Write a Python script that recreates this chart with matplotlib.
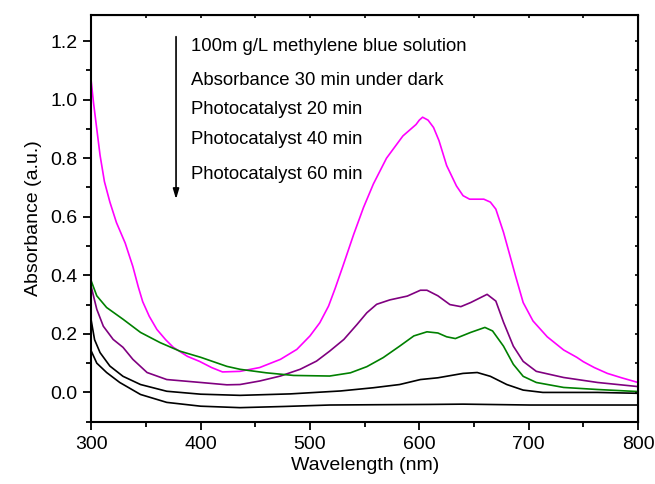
import matplotlib
matplotlib.use("Agg")
import matplotlib.pyplot as plt
from matplotlib.ticker import MultipleLocator, FormatStrFormatter

# ---- spectra (wavelength nm, absorbance a.u.) ------------------------------
wl_mb = [300, 302, 305, 308, 312, 317, 323, 331, 338, 343, 347, 353, 360, 368,
         375, 388, 399, 410, 420, 436, 454, 473, 488, 500, 509, 517, 523, 530,
         540, 549, 558, 570, 585, 597, 600, 603, 608, 613, 618, 625, 634, 640,
         646, 659, 665, 670, 677, 683, 688, 695, 704, 717, 732, 744, 750, 760,
         772, 785, 800]
abs_mb = [1.06, 0.99, 0.90, 0.81, 0.72, 0.65, 0.58, 0.51, 0.43, 0.36, 0.31, 0.26,
          0.215, 0.18, 0.154, 0.123, 0.106, 0.085, 0.07, 0.072, 0.085, 0.113,
          0.147, 0.193, 0.238, 0.295, 0.355, 0.43, 0.54, 0.632, 0.712, 0.80,
          0.876, 0.915, 0.93, 0.94, 0.93, 0.905, 0.86, 0.775, 0.705, 0.672,
          0.66, 0.66, 0.65, 0.626, 0.547, 0.466, 0.398, 0.307, 0.244, 0.19,
          0.145, 0.12, 0.105, 0.085, 0.065, 0.05, 0.034]

wl_dark = [300, 305, 311, 320, 329, 338, 351, 369, 400, 424, 436, 454, 473, 491,
           506, 518, 531, 543, 552, 561, 573, 589, 601, 607, 617, 628, 638, 647,
           662, 670, 677, 686, 695, 707, 732, 763, 800]
abs_dark = [0.36, 0.284, 0.226, 0.181, 0.154, 0.113, 0.068, 0.044, 0.034, 0.026,
            0.027, 0.039, 0.056, 0.079, 0.107, 0.141, 0.181, 0.232, 0.272,
            0.301, 0.316, 0.329, 0.349, 0.349, 0.33, 0.30, 0.293, 0.307, 0.335,
            0.312, 0.24, 0.158, 0.106, 0.072, 0.051, 0.034, 0.02]

wl_20 = [300, 305, 314, 329, 345, 363, 381, 400, 424, 436, 460, 485, 518, 537,
         552, 567, 582, 595, 607, 617, 625, 633, 647, 660, 667, 677, 686, 695,
         707, 732, 763, 800]
abs_20 = [0.38, 0.33, 0.29, 0.25, 0.205, 0.17, 0.141, 0.12, 0.089, 0.079, 0.067,
          0.058, 0.056, 0.067, 0.088, 0.119, 0.158, 0.193, 0.207, 0.203, 0.19,
          0.184, 0.205, 0.222, 0.21, 0.158, 0.096, 0.055, 0.034, 0.017, 0.01,
          0.003]

wl_40 = [300, 303, 308, 317, 329, 345, 369, 400, 436, 482, 528, 558, 582, 601,
         617, 640, 653, 665, 680, 695, 713, 763, 800]
abs_40 = [0.244, 0.18, 0.136, 0.09, 0.055, 0.027, 0.004, -0.006, -0.01, -0.005,
          0.005, 0.016, 0.027, 0.044, 0.05, 0.065, 0.068, 0.055, 0.027, 0.008,
          0.0, 0.0, -0.003]

wl_60 = [300, 305, 314, 326, 345, 369, 400, 436, 476, 518, 560, 610, 640, 701, 800]
abs_60 = [0.141, 0.10, 0.068, 0.034, -0.007, -0.034, -0.047, -0.052, -0.048,
          -0.043, -0.042, -0.041, -0.04, -0.043, -0.043]

legend_lines = ["100m g/L methylene blue solution",
                "Absorbance 30 min under dark",
                "Photocatalyst 20 min",
                "Photocatalyst 40 min",
                "Photocatalyst 60 min"]
legend_y = [1.18, 1.067, 0.967, 0.863, 0.745]

plt.rcParams["font.family"] = ["Liberation Sans", "DejaVu Sans"]

fig = plt.figure(figsize=(6.55, 4.84), dpi=100)
ax = fig.add_axes([0.1394, 0.1287, 0.8346, 0.8409])

lw = 1.2
ax.plot(wl_mb, abs_mb, color="#ff00ff", lw=lw)
ax.plot(wl_dark, abs_dark, color="#800080", lw=lw)
ax.plot(wl_20, abs_20, color="#008000", lw=lw)
ax.plot(wl_40, abs_40, color="black", lw=lw)
ax.plot(wl_60, abs_60, color="black", lw=lw)

ax.annotate("", xy=(377.5, 0.66), xytext=(377.5, 1.215),
            arrowprops=dict(arrowstyle="-|>,head_length=0.6,head_width=0.18",
                            color="black", lw=1.2, shrinkA=0, shrinkB=0))
for txt, y in zip(legend_lines, legend_y):
    ax.text(391.5, y, txt, fontsize=13.3, va="center", ha="left")

ax.set_xlim(300, 800)
ax.set_ylim(-0.1, 1.29)
ax.xaxis.set_major_locator(MultipleLocator(100))
ax.xaxis.set_minor_locator(MultipleLocator(50))
ax.yaxis.set_major_locator(MultipleLocator(0.2))
ax.yaxis.set_minor_locator(MultipleLocator(0.1))
ax.yaxis.set_major_formatter(FormatStrFormatter("%.1f"))

ax.tick_params(which="both", direction="out", top=False, right=False,
               labelsize=14, width=1.3)
ax.tick_params(which="major", length=6, pad=4)
ax.tick_params(which="minor", length=3.5)
for s in ax.spines.values():
    s.set_linewidth(1.5)

# short inward ticks on the top and right edges
top = ax.secondary_xaxis("top")
top.xaxis.set_major_locator(MultipleLocator(50))
top.tick_params(direction="in", length=2.5, width=1.2, labeltop=False)
top.set_xticklabels([])
right = ax.secondary_yaxis("right")
right.yaxis.set_major_locator(MultipleLocator(0.1))
right.tick_params(direction="in", length=2.5, width=1.2, labelright=False)
right.set_yticklabels([])

ax.set_xlabel("Wavelength (nm)", fontsize=14, labelpad=3)
ax.set_ylabel("Absorbance (a.u.)", fontsize=14, labelpad=6)

fig.savefig("out.png", dpi=100)
